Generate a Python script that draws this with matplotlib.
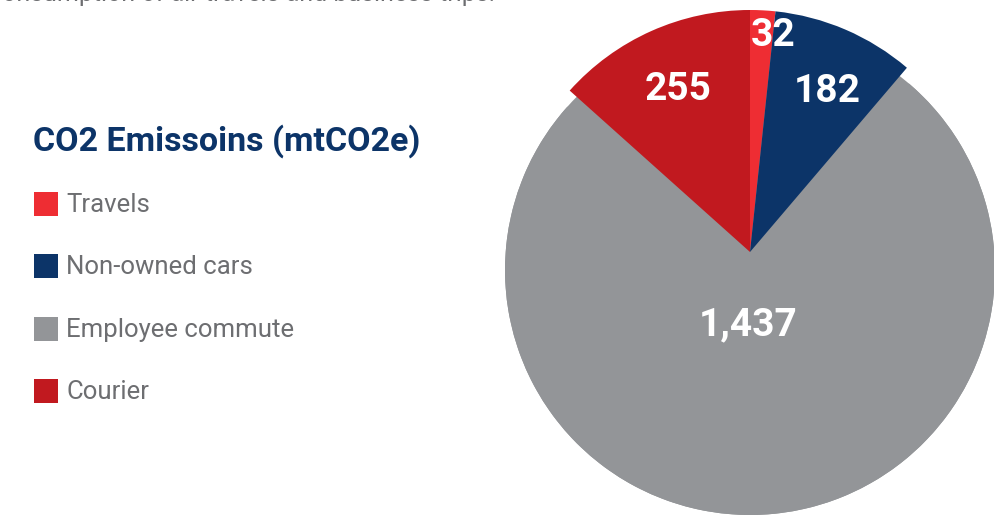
import matplotlib
matplotlib.use("Agg")
import matplotlib.pyplot as plt
from matplotlib.patches import Circle, Rectangle

# Emissions by source (mtCO2e)
categories = ["Travels", "Non-owned cars", "Employee commute", "Courier"]
values = [32, 182, 1437, 255]
colors = ["#EE2D33", "#0C3468", "#939598", "#C1191F"]

title = "CO2 Emissoins (mtCO2e)"
header_tail = "consumption of air travels and business trips."

W, H = 995, 516
fig = plt.figure(figsize=(W / 100, H / 100), dpi=100)
ax = fig.add_axes([0, 0, 1, 1])

# pie geometry in pixel-like data units (y grows upward)
cx, cy, r = 750, 264, 242
drop, r_big = 18, 245

wedges, _ = ax.pie(values, colors=colors, startangle=90, counterclock=False,
                   center=(cx, cy), radius=r,
                   wedgeprops=dict(linewidth=0, antialiased=True))

# the commute slice sits on a slightly lower, larger disc
big = wedges[2]
big.set_center((cx, cy - drop))
big.set_radius(r_big)
ax.add_patch(Circle((cx, cy - drop), r_big, color=colors[2], lw=0, zorder=0.5))
for i, w in enumerate(wedges):
    w.set_zorder(1 if i == 2 else 2)

# value labels
num_font = dict(family="Roboto", weight="bold", color="white",
                ha="center", va="center", fontsize=28, zorder=5)
label_pos = [(773, 481), (827, 424), (748, 191), (678, 426)]
for v, (x, y) in zip(values, label_pos):
    ax.text(x, y, f"{v:,}", **num_font)

# title and legend
ax.text(33, H - 141, title, family="Roboto", weight="bold", fontsize=24.5,
        color="#0C3468", ha="left", va="center")
y0, step = H - 204, 62.3
for i, (name, col) in enumerate(zip(categories, colors)):
    y = y0 - i * step
    ax.add_patch(Rectangle((34, y - 12), 24, 24, color=col, lw=0))
    ax.text(66, y - 1, name, family="Roboto", fontsize=18.5, color="#6D6E71",
            ha="left", va="center")

# tail of the preceding paragraph, running off the top edge
ax.text(495, H - 1.5, header_tail, family="Roboto", fontsize=18,
        color="#6D6E71", ha="right", va="baseline")

ax.set_xlim(0, W)
ax.set_ylim(0, H)
ax.set_aspect("equal")
ax.axis("off")
fig.savefig("out.png", dpi=100)
